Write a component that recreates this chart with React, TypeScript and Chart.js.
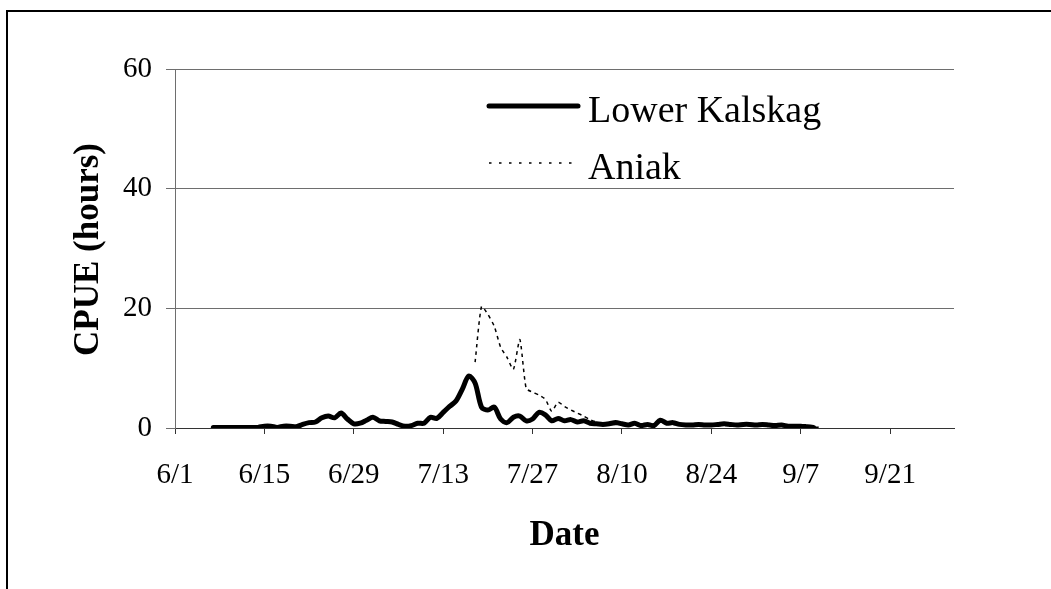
import React, { useEffect, useRef } from "react";
import { Chart, registerables } from "chart.js";

Chart.register(...registerables);

// Days counted from 6/1
const kalskagDays = [
  6, 7, 8, 9, 10, 11, 12, 13, 14, 15, 16, 17, 18, 19, 20, 21, 22, 23, 24, 25,
  26, 27, 28, 29, 30, 31, 32, 33, 34, 35, 36, 37, 38, 39, 40, 41, 42, 43, 44, 45,
  46, 47, 48, 49, 50, 51, 52, 53, 54, 55, 56, 57, 58, 59, 60, 61, 62, 63, 64, 65,
  66, 67, 68, 69, 70, 71, 72, 73, 74, 75, 76, 77, 78, 79, 80, 81, 82, 83, 84, 85,
  86, 87, 88, 89, 90, 91, 92, 93, 94, 95, 96, 97, 98, 99, 100,
];
const kalskagCpue = [
  0.1, 0.1, 0.1, 0.1, 0.1, 0.1, 0.1, 0.1, 0.3, 0.3, 0.1, 0.3, 0.3, 0.2, 0.6, 0.9, 1.0, 1.7, 2.0, 1.7,
  2.5, 1.5, 0.7, 0.8, 1.3, 1.8, 1.2, 1.1, 1.0, 0.6, 0.3, 0.4, 0.8, 0.8, 1.8, 1.6, 2.6, 3.6, 4.5, 6.5,
  8.7, 7.5, 3.5, 3.0, 3.5, 1.5, 0.9, 1.8, 2.0, 1.2, 1.5, 2.6, 2.2, 1.2, 1.6, 1.2, 1.4, 1.0, 1.2, 0.8,
  0.7, 0.6, 0.7, 0.9, 0.7, 0.5, 0.8, 0.4, 0.6, 0.4, 1.3, 0.8, 0.9, 0.6, 0.5, 0.5, 0.6, 0.5, 0.5, 0.6,
  0.7, 0.6, 0.5, 0.6, 0.6, 0.5, 0.6, 0.5, 0.4, 0.5, 0.3, 0.3, 0.3, 0.2, 0.1,
];

const aniakDays = [
  47, 48, 49, 50, 51, 52, 53, 54, 55, 56, 57, 58, 59, 60, 61, 62, 63, 64, 65, 66,
  67, 68, 69, 70, 72, 74, 76, 78, 80, 84, 88, 92, 96, 100, 101,
];
const aniakCpue = [
  11.0, 20.3, 19.0, 17.0, 13.5, 11.8, 9.8, 14.8, 6.6, 6.0, 5.5, 4.8, 2.8, 4.3, 3.6, 3.0, 2.5, 2.0, 1.4, 1.0,
  0.7, 0.6, 0.6, 0.5, 0.5, 0.4, 1.0, 0.6, 0.4, 0.4, 0.4, 0.4, 0.3, 0.2, 0.1,
];

const yTicks = [0, 20, 40, 60];
const xTickDays = [0, 14, 28, 42, 56, 70, 84, 98, 112];
const seriesNames = ["Lower Kalskag", "Aniak"];
const xTitle = "Date";
const yTitle = "CPUE (hours)";

const FONT = "'Liberation Serif', 'Times New Roman', serif";

function dayLabel(d: number): string {
  const t = new Date(Date.UTC(2001, 5, 1) + d * 86400000);
  return `${t.getUTCMonth() + 1}/${t.getUTCDate()}`;
}

const decorPlugin = {
  id: "decor",
  afterDraw(chart: any) {
    const ctx = chart.ctx as CanvasRenderingContext2D;
    const area = chart.chartArea;
    ctx.save();
    // outer border
    ctx.strokeStyle = "#000";
    ctx.lineWidth = 2;
    ctx.strokeRect(7, 11, 2000, 2000);

    // axis titles
    ctx.fillStyle = "#000";
    ctx.font = `bold 35px ${FONT}`;
    ctx.textAlign = "center";
    ctx.textBaseline = "middle";
    ctx.fillText(xTitle, (area.left + area.right) / 2, 536);
    ctx.save();
    ctx.translate(89, (area.top + area.bottom) / 2 + 1);
    ctx.rotate(-Math.PI / 2);
    ctx.fillText(yTitle, 0, 0);
    ctx.restore();

    // legend
    const ds = chart.data.datasets;
    const rows = [106, 163];
    const legendDash = [[], [2.5, 7.5]];
    ctx.font = `38px ${FONT}`;
    ctx.textAlign = "left";
    ds.forEach((d: any, i: number) => {
      const y = rows[i];
      ctx.beginPath();
      ctx.strokeStyle = d.borderColor;
      ctx.lineWidth = d.borderWidth;
      ctx.lineCap = i === 0 ? "round" : "butt";
      ctx.setLineDash(legendDash[i]);
      ctx.moveTo(489, y);
      ctx.lineTo(578, y);
      ctx.stroke();
      ctx.setLineDash([]);
      ctx.fillText(d.label, 588, y + 6);
    });
    ctx.restore();
  },
};

export default function App() {
  const ref = useRef<HTMLCanvasElement | null>(null);

  useEffect(() => {
    if (!ref.current) return;
    const chart = new Chart(ref.current, {
      type: "line",
      data: {
        datasets: [
          {
            label: seriesNames[0],
            data: kalskagDays.map((d, i) => ({ x: d, y: kalskagCpue[i] })),
            borderColor: "#000",
            borderWidth: 5,
            borderJoinStyle: "round",
            borderCapStyle: "round",
            pointRadius: 0,
            tension: 0.3,
            fill: false,
          },
          {
            label: seriesNames[1],
            data: aniakDays.map((d, i) => ({ x: d, y: aniakCpue[i] })),
            borderColor: "#000",
            borderWidth: 1.5,
            borderDash: [3.5, 4],
            pointRadius: 0,
            tension: 0.2,
            fill: false,
          },
        ],
      },
      options: {
        responsive: false,
        animation: false,
        events: [],
        layout: { padding: { left: 0, top: 69, right: 97, bottom: 0 } },
        plugins: { legend: { display: false }, tooltip: { enabled: false } },
        scales: {
          x: {
            type: "linear",
            min: 0,
            max: 122,
            afterFit(scale: any) {
              scale.height = 161;
            },
            afterBuildTicks(scale: any) {
              scale.ticks = xTickDays.map((v) => ({ value: v }));
            },
            ticks: {
              autoSkip: false,
              maxRotation: 0,
              includeBounds: false,
              padding: 24,
              color: "#000",
              font: { family: FONT, size: 29 },
              callback: (v: any) => dayLabel(Number(v)),
            },
            grid: {
              drawOnChartArea: false,
              drawTicks: true,
              tickLength: 6,
              color: "#333",
            },
            border: { display: true, color: "#333", width: 1 },
          },
          y: {
            min: 0,
            max: 60,
            afterFit(scale: any) {
              scale.width = 175;
            },
            afterBuildTicks(scale: any) {
              scale.ticks = yTicks.map((v) => ({ value: v }));
            },
            ticks: {
              padding: 14,
              color: "#000",
              font: { family: FONT, size: 29 },
            },
            grid: {
              color: "#6e6e6e",
              tickLength: 9,
            },
            border: { display: true, color: "#6e6e6e", width: 1 },
          },
        },
      },
      plugins: [decorPlugin],
    } as any);
    return () => chart.destroy();
  }, []);

  return (
    <div style={{ position: "absolute", left: 0, top: 0, width: 1051, height: 589, background: "#fff" }}>
      <canvas ref={ref} width={1051} height={589} style={{ display: "block" }} />
    </div>
  );
}
